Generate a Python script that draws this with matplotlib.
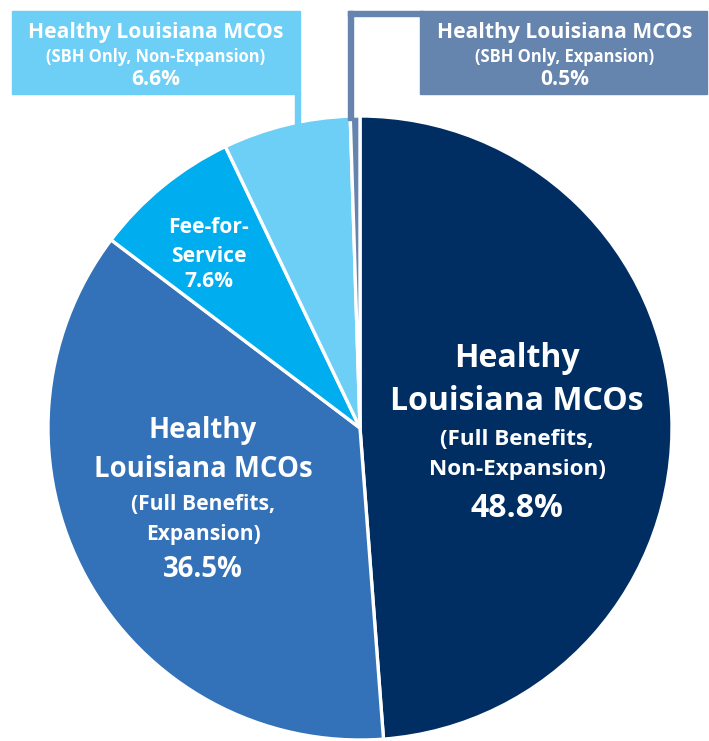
import matplotlib.pyplot as plt
from matplotlib.patches import Rectangle

# Share of enrollees by plan type (clockwise from 12 o'clock)
shares = [48.8, 36.5, 7.6, 6.6, 0.5]
slice_colors = ["#002E62", "#3371B8", "#00AEEF", "#6DCFF6", "#6584AE"]
pct_labels = ["48.8%", "36.5%", "7.6%", "6.6%", "0.5%"]

W, H = 709, 741
plt.rcParams["font.family"] = ["Open Sans", "DejaVu Sans"]


def Y(py):
    # pixel row (from top) -> data y
    return H - py


def pt(px):
    return px * 0.72


fig = plt.figure(figsize=(W / 100, H / 100), dpi=100)
ax = fig.add_axes([0, 0, 1, 1])

ax.pie(shares, colors=slice_colors, startangle=90, counterclock=False,
       center=(360, Y(428)), radius=312,
       wedgeprops=dict(edgecolor="white", linewidth=2.4))

ax.set_xlim(0, W)
ax.set_ylim(0, H)
ax.set_aspect("equal")
ax.axis("off")

# callout boxes and connector lines
ax.add_patch(Rectangle((12, Y(94)), 288, 83, color=slice_colors[3], zorder=3))
ax.add_patch(Rectangle((295, Y(126)), 5, 34, color=slice_colors[3], zorder=3))

ax.add_patch(Rectangle((420, Y(94)), 287, 83, color=slice_colors[4], zorder=3))
ax.add_patch(Rectangle((348, Y(16)), 75, 5, color=slice_colors[4], zorder=3))
ax.add_patch(Rectangle((348, Y(120)), 5, 109, color=slice_colors[4], zorder=3))


def txt(x, py, s, px):
    ax.text(x, Y(py), s, color="white", fontsize=pt(px), fontweight="bold",
            ha="center", va="baseline", zorder=5)


# big navy slice
txt(517, 367, "Healthy", 32)
txt(517, 410, "Louisiana MCOs", 32)
txt(517, 445, "(Full Benefits,", 22.5)
txt(517, 475, "Non-Expansion)", 22.5)
txt(517, 517, pct_labels[0], 32)

# medium blue slice
txt(203, 438, "Healthy", 27.5)
txt(203, 477, "Louisiana MCOs", 27.5)
txt(203, 510, "(Full Benefits,", 21)
txt(203, 540, "Expansion)", 21)
txt(203, 577, pct_labels[1], 27.5)

# fee-for-service
txt(209, 233, "Fee-for-", 21)
txt(209, 262, "Service", 21)
txt(209, 287, pct_labels[2], 21)

# callouts
txt(156, 38, "Healthy Louisiana MCOs", 21)
txt(156, 62, "(SBH Only, Non-Expansion)", 16.5)
txt(156, 85, pct_labels[3], 21)

txt(565, 38, "Healthy Louisiana MCOs", 21)
txt(565, 62, "(SBH Only, Expansion)", 16.5)
txt(565, 85, pct_labels[4], 21)

fig.savefig("out.png", dpi=100)
